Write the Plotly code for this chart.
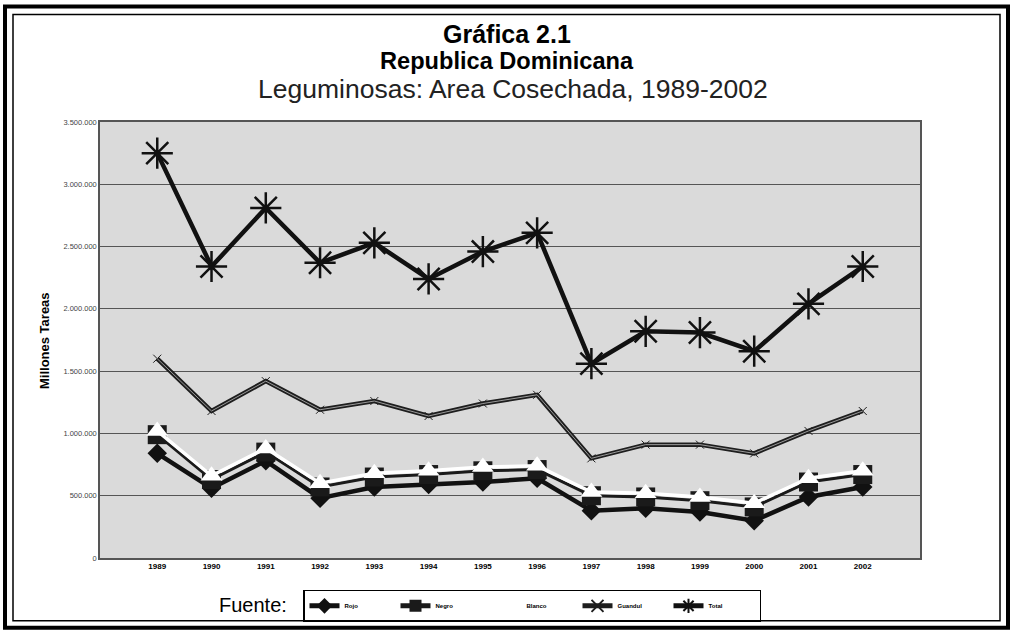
import plotly.graph_objects as go

years = ["1989", "1990", "1991", "1992", "1993", "1994", "1995", "1996",
         "1997", "1998", "1999", "2000", "2001", "2002"]

rojo = [840000, 560000, 780000, 480000, 570000, 590000, 610000, 640000,
        380000, 400000, 370000, 300000, 490000, 570000]
negro = [990000, 630000, 850000, 570000, 650000, 670000, 700000, 710000,
         500000, 490000, 460000, 410000, 610000, 670000]
blanco = [1020000, 660000, 880000, 600000, 680000, 700000, 730000, 740000,
          530000, 520000, 490000, 440000, 640000, 700000]
guandul = [1600000, 1180000, 1420000, 1190000, 1260000, 1140000, 1240000, 1310000,
           800000, 910000, 910000, 840000, 1020000, 1180000]
total = [3250000, 2340000, 2810000, 2370000, 2530000, 2240000, 2460000, 2610000,
         1560000, 1820000, 1810000, 1660000, 2040000, 2340000]

y_ticks = [0, 500000, 1000000, 1500000, 2000000, 2500000, 3000000, 3500000]
y_tick_text = ["0", "500.000", "1.000.000", "1.500.000", "2.000.000",
               "2.500.000", "3.000.000", "3.500.000"]

fig = go.Figure()

fig.add_trace(go.Scatter(x=years, y=rojo, name="Rojo", mode="lines+markers",
                         line=dict(color="#111111", width=4.5),
                         marker=dict(symbol="diamond", size=15, color="#111111")))
fig.add_trace(go.Scatter(x=years, y=negro, name="Negro", mode="lines+markers",
                         line=dict(color="#1a1a1a", width=3),
                         marker=dict(symbol="square", size=19, color="#1a1a1a")))
fig.add_trace(go.Scatter(x=years, y=blanco, name="Blanco", mode="lines+markers",
                         line=dict(color="#ffffff", width=3.5),
                         marker=dict(symbol="triangle-up", size=19, color="#ffffff",
                                     line=dict(width=0))))
fig.add_trace(go.Scatter(x=years, y=guandul, name="Guandul", mode="lines+markers",
                         line=dict(color="#1e1e1e", width=4.5),
                         marker=dict(symbol="x-thin-open", size=8,
                                     line=dict(color="#888888", width=1))))
fig.add_trace(go.Scatter(x=years, y=guandul, mode="lines", showlegend=False,
                         hoverinfo="skip",
                         line=dict(color="#9a9a9a", width=1)))
fig.add_trace(go.Scatter(x=years, y=total, name="Total", mode="lines+markers",
                         line=dict(color="#111111", width=4.5),
                         marker=dict(symbol="asterisk-open", size=26,
                                     line=dict(color="#111111", width=2.5))))

L, R, T, B = 100, 93, 122, 74
W, H = 1013, 634
pw, ph = W - L - R, H - T - B


def px(x):
    return (x - L) / pw


def py(y):
    return (H - B - y) / ph


shapes = [
    dict(type="rect", xref="paper", yref="paper", x0=px(5), x1=px(1008),
         y0=py(630), y1=py(6), line=dict(color="black", width=4)),
    dict(type="rect", xref="paper", yref="paper", x0=px(13), x1=px(1000),
         y0=py(623), y1=py(14), line=dict(color="black", width=1.5)),
]

annotations = [
    dict(text="<b>Gráfica 2.1</b>", x=px(507), y=py(34), xref="paper", yref="paper",
         showarrow=False, font=dict(size=25, color="black"), xanchor="center", yanchor="middle"),
    dict(text="<b>Republica Dominicana</b>", x=px(507), y=py(61), xref="paper", yref="paper",
         showarrow=False, font=dict(size=23.6, color="black"), xanchor="center", yanchor="middle"),
    dict(text="Leguminosas: Area Cosechada, 1989-2002", x=px(513), y=py(89), xref="paper",
         yref="paper", showarrow=False, font=dict(size=26.5, color="#222222"),
         xanchor="center", yanchor="middle"),
    dict(text="<b>Millones Tareas</b>", x=px(45), y=py(342), xref="paper", yref="paper",
         showarrow=False, textangle=-90, font=dict(size=13, color="black"),
         xanchor="center", yanchor="middle"),
    dict(text="Fuente:", x=px(217), y=py(607), xref="paper", yref="paper",
         showarrow=False, font=dict(size=20, color="black"),
         xanchor="left", yanchor="middle"),
]

fig.update_layout(
    width=W, height=H,
    margin=dict(l=L, r=R, t=T, b=B),
    paper_bgcolor="white",
    plot_bgcolor="#dadada",
    font=dict(family="Liberation Sans, Arial, sans-serif", color="black"),
    shapes=shapes,
    annotations=annotations,
    showlegend=True,
    legend=dict(orientation="h", x=px(303), y=py(592), xanchor="left", yanchor="top",
                bgcolor="white", bordercolor="black", borderwidth=1.5,
                font=dict(size=6, color="black", weight="bold"),
                entrywidth=46, entrywidthmode="pixels",
                itemsizing="constant", tracegroupgap=0),
)

fig.update_xaxes(type="category", showgrid=False, showline=True, linecolor="#555555",
                 linewidth=1.5, mirror=True, ticks="", tickson="boundaries",
                 tickfont=dict(size=8, color="black", weight="bold"), ticklen=3)
fig.update_yaxes(range=[0, 3500000], tickvals=y_ticks, ticktext=y_tick_text,
                 showgrid=True, gridcolor="#555555", gridwidth=1,
                 showline=True, linecolor="#555555", linewidth=1.5, mirror=True,
                 zeroline=False, tickfont=dict(size=7.5, color="#444444"))

fig.write_html("out.html", config={"displayModeBar": False},
               post_script="document.body.style.margin='0';")
